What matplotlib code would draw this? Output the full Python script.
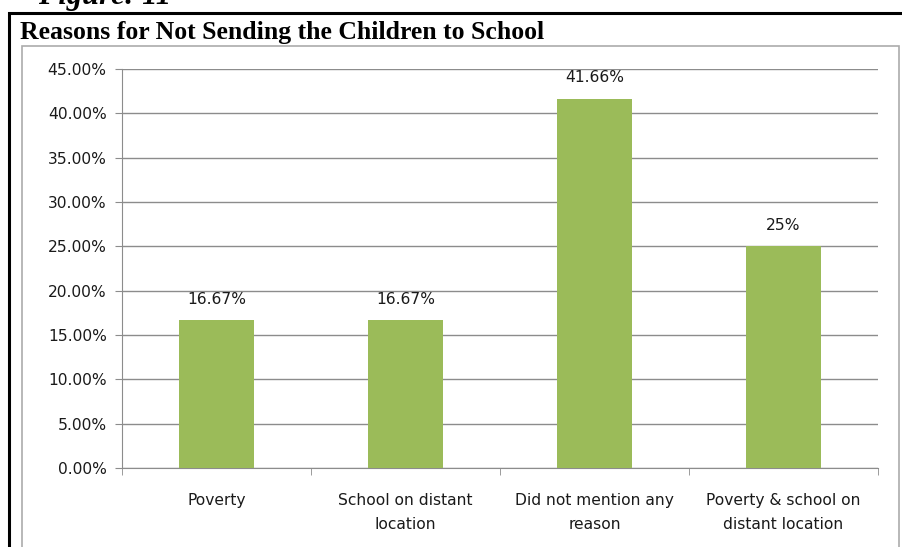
import numpy as np
import matplotlib
matplotlib.use('Agg')
import matplotlib.pyplot as plt
from matplotlib.patches import Rectangle

# reasons and their shares (percent)
reasons = ['Poverty', 'School on distant\nlocation', 'Did not mention any\nreason',
           'Poverty & school on\ndistant location']
shares = [16.67, 16.67, 41.66, 25.0]
share_labels = ['16.67%', '16.67%', '41.66%', '25%']
yticks = np.arange(0, 45.01, 5)

W, H = 903, 547
fig = plt.figure(figsize=(W/100, H/100), dpi=100)
fig.patch.set_facecolor('white')

def px(x0, y0, x1, y1):
    # pixel box (top-left origin) -> figure fraction rect
    return [x0/W, 1-y1/H, (x1-x0)/W, (y1-y0)/H]

# caption above the framed chart (cut at the top edge)
fig.text(38/W, 1-4/H, 'Figure: 11', family='Liberation Serif', style='italic',
         weight='bold', fontsize=22, va='baseline', ha='left')

# outer black frame and inner grey chart frame
fig.add_artist(Rectangle((9/W, -0.05), 1.0, 1-13/H+0.05, transform=fig.transFigure,
                         fill=False, edgecolor='black', linewidth=2.2))
fig.add_artist(Rectangle((22/W, -0.05), (899-22)/W, 1-46/H+0.05, transform=fig.transFigure,
                         fill=False, edgecolor='#ababab', linewidth=1.2))

fig.text(20/W, 1-32/H, 'Reasons for Not Sending the Children to School',
         family='Liberation Serif', weight='bold', fontsize=18.5, va='center', ha='left')

lab_font = dict(family='DejaVu Sans', fontsize=11.2, color='#1a1a1a')

ax = fig.add_axes(px(122, 69, 878, 468))
x = np.arange(len(reasons))
ax.bar(x, shares, width=0.4, color='#9bbb59', zorder=3)
for xi, v, lab in zip(x, shares, share_labels):
    ax.annotate(lab, (xi, v), xytext=(0, 15), textcoords='offset points',
                ha='center', va='center', **lab_font)

ax.set_xlim(-0.5, len(reasons)-0.5)
ax.set_ylim(0, 45)
ax.set_yticks(yticks)
ax.set_yticklabels([f'{v:.2f}%' for v in yticks], **lab_font)
ax.yaxis.grid(True, color='#8c8c8c', linewidth=1.0, zorder=0)
ax.tick_params(axis='y', length=5, color='#8c8c8c', pad=6)

ax.set_xticks(x)
ax.set_xticklabels(reasons, linespacing=1.75, **lab_font)
ax.set_xticks(np.arange(len(reasons)+1)-0.5, minor=True)
ax.tick_params(axis='x', which='major', length=0, pad=18)
ax.tick_params(axis='x', which='minor', length=5, color='#8c8c8c')

for s in ['top', 'right']:
    ax.spines[s].set_visible(False)
for s in ['left', 'bottom']:
    ax.spines[s].set_color('#8c8c8c')

fig.savefig('out.png', dpi=100)
